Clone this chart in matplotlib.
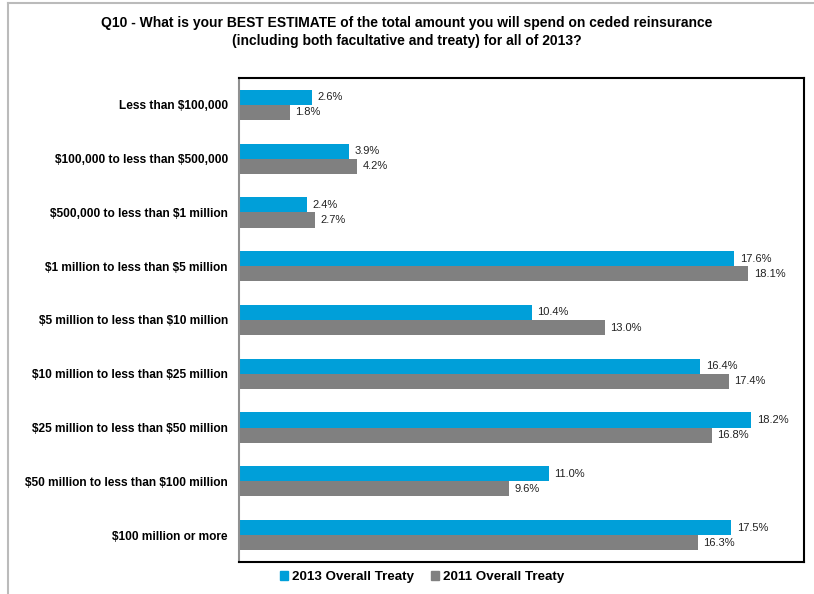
import matplotlib
matplotlib.use("Agg")
import matplotlib.pyplot as plt
from matplotlib.lines import Line2D
from matplotlib.patches import Rectangle
import numpy as np

plt.rcParams['font.family'] = ['Liberation Sans', 'DejaVu Sans']

categories = [
    "Less than $100,000",
    "$100,000 to less than $500,000",
    "$500,000 to less than $1 million",
    "$1 million to less than $5 million",
    "$5 million to less than $10 million",
    "$10 million to less than $25 million",
    "$25 million to less than $50 million",
    "$50 million to less than $100 million",
    "$100 million or more",
]
treaty_2013 = [2.6, 3.9, 2.4, 17.6, 10.4, 16.4, 18.2, 11.0, 17.5]
treaty_2011 = [1.8, 4.2, 2.7, 18.1, 13.0, 17.4, 16.8, 9.6, 16.3]
series_names = ["2013 Overall Treaty", "2011 Overall Treaty"]

blue = "#009FD9"
gray = "#808080"

W, H = 814, 594
fig = plt.figure(figsize=(W / 100, H / 100), dpi=100)

# outer frame lines (left and top)
fig.add_artist(Line2D([8 / W, 8 / W], [0, 1 - 3 / H], color="#BBBBBB", lw=1.5))
fig.add_artist(Line2D([8 / W, 1], [1 - 3 / H, 1 - 3 / H], color="#BBBBBB", lw=1.5))

left, right, top, bottom = 239, 804, 78, 562
ax = fig.add_axes([left / W, 1 - bottom / H, (right - left) / W, (bottom - top) / H])

y = np.arange(len(categories))
h = 0.28
ax.barh(y - h / 2, treaty_2013, height=h, color=blue, label=series_names[0])
ax.barh(y + h / 2, treaty_2011, height=h, color=gray, label=series_names[1])

for yi, v in zip(y, treaty_2013):
    ax.text(v + 0.2, yi - h / 2, f"{v:.1f}%", va="center", ha="left", fontsize=8, color="#222222")
for yi, v in zip(y, treaty_2011):
    ax.text(v + 0.2, yi + h / 2, f"{v:.1f}%", va="center", ha="left", fontsize=8, color="#222222")

ax.set_xlim(0, 20.08)
ax.set_ylim(len(categories) - 0.5, -0.5)
ax.set_xticks([])
ax.set_yticks(y)
ax.set_yticklabels([c.replace("$", r"\$") for c in categories], fontsize=8.6, fontweight="bold")
ax.tick_params(axis="y", length=0, pad=8)

for s in ["top", "right", "bottom"]:
    ax.spines[s].set_color("black")
    ax.spines[s].set_linewidth(1.5)
ax.spines["left"].set_color("#909090")
ax.spines["left"].set_linewidth(1.5)

fig.text(407 / W, 1 - 32 / H,
         "Q10 - What is your BEST ESTIMATE of the total amount you will spend on ceded reinsurance\n"
         "(including both facultative and treaty) for all of 2013?",
         ha="center", va="center", fontsize=10, fontweight="bold", linespacing=1.4)

handles = [Rectangle((0, 0), 1, 1, color=blue), Rectangle((0, 0), 1, 1, color=gray)]
fig.legend(handles, series_names, loc="center", bbox_to_anchor=(422 / W, 1 - 577 / H),
           ncol=2, frameon=False, handlelength=0.6, handleheight=0.6, handletextpad=0.3,
           columnspacing=1.3, prop={"weight": "bold", "size": 9.6})

fig.savefig("out.png", dpi=100)
